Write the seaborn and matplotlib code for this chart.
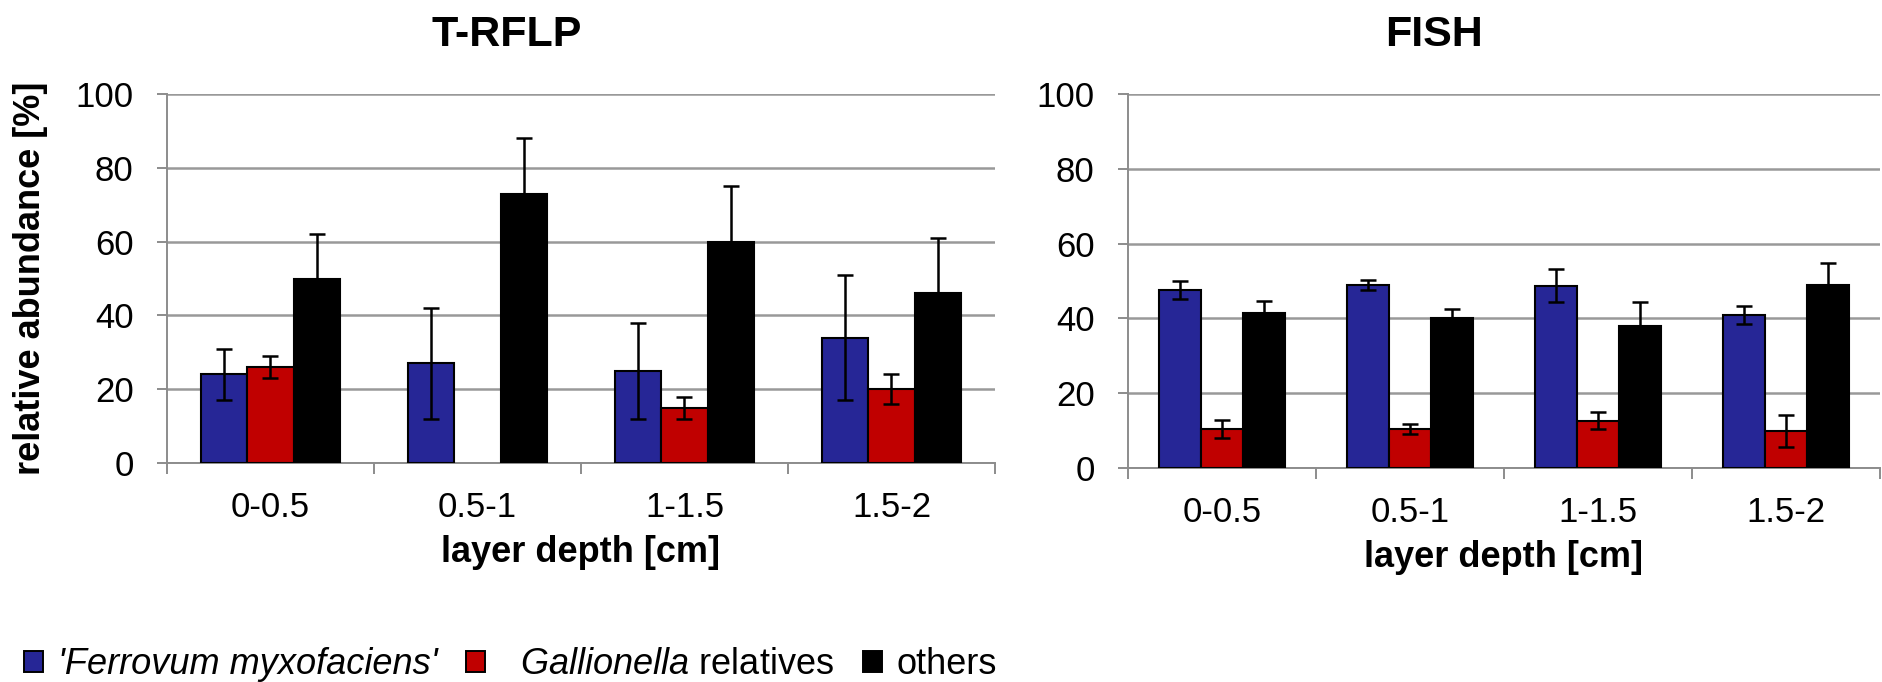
import numpy as np
import pandas as pd
import seaborn as sns
import matplotlib.pyplot as plt
from matplotlib.patches import Patch

depths = ["0-0.5", "0.5-1", "1-1.5", "1.5-2"]
groups = ["ferrovum", "gallionella", "others"]

# T-RFLP means and standard deviations (%)
trflp_ferrovum = [24, 27, 25, 34]
trflp_ferrovum_sd = [7, 15, 13, 17]
trflp_gallionella = [26, np.nan, 15, 20]
trflp_gallionella_sd = [3, np.nan, 3, 4]
trflp_others = [50, 73, 60, 46]
trflp_others_sd = [12, 15, 15, 15]

# FISH means and standard deviations (%)
fish_ferrovum = [47.5, 49, 48.7, 40.9]
fish_ferrovum_sd = [2.4, 1.4, 4.4, 2.4]
fish_gallionella = [10.5, 10.5, 12.6, 9.8]
fish_gallionella_sd = [2.4, 1.3, 2.3, 4.3]
fish_others = [41.5, 40, 38.1, 48.9]
fish_others_sd = [3.1, 2.6, 6.2, 6.0]

colors = ["#262696", "#C00000", "#000000"]

sns.set_theme(style="white")
plt.rcParams["font.family"] = ["Liberation Sans", "DejaVu Sans"]
plt.rcParams["mathtext.fontset"] = "custom"
plt.rcParams["mathtext.rm"] = "Liberation Sans"
plt.rcParams["mathtext.it"] = "Liberation Sans:italic"
for k in ["text.color", "axes.labelcolor", "xtick.labelcolor", "ytick.labelcolor"]:
    plt.rcParams[k] = "black"


def make_df(vals, sds):
    rows = []
    for g, v, s in zip(groups, vals, sds):
        for d, vv, ss in zip(depths, v, s):
            rows.append({"depth": d, "group": g, "value": vv, "sd": ss})
    return pd.DataFrame(rows)


def draw(ax, df, show_ylabel):
    sns.barplot(data=df, x="depth", y="value", hue="group", order=depths,
                hue_order=groups, palette=colors, width=0.667, saturation=1,
                edgecolor="black", linewidth=1.5, legend=False, ax=ax,
                errorbar=None, zorder=3)
    # error bars from the drawn bar centres
    for cont, g in zip(ax.containers, groups):
        sub = df[df["group"] == g].set_index("depth")
        for bar in cont:
            xc = bar.get_x() + bar.get_width() / 2
            r = sub.loc[depths[int(round(xc))]]
            if np.isnan(r["sd"]) or np.isnan(r["value"]):
                continue
            ax.errorbar(xc, r["value"], yerr=r["sd"], color="black",
                        elinewidth=1.8, capsize=6, capthick=1.8, zorder=4)
    ax.set_ylim(0, 100)
    ax.set_xlim(-0.5, 3.5)
    ax.set_yticks([0, 20, 40, 60, 80, 100])
    ax.yaxis.grid(True, color="#999999", linewidth=1.8, zorder=0)
    ax.set_axisbelow(True)
    for s in ["top", "right"]:
        ax.spines[s].set_visible(False)
    for s in ["left", "bottom"]:
        ax.spines[s].set_color("#8c8c8c")
        ax.spines[s].set_linewidth(1.4)
    ax.set_xticks([-0.5, 0.5, 1.5, 2.5, 3.5], minor=True)
    ax.tick_params(axis="x", which="major", length=0, pad=20, labelsize=25)
    ax.tick_params(axis="x", which="minor", length=8, width=1.4, color="#8c8c8c",
                   direction="out", bottom=True)
    ax.tick_params(axis="y", length=7, width=1.4, color="#8c8c8c", direction="out",
                   left=True, pad=17, labelsize=25)
    ax.set_xlabel("layer depth [cm]", fontsize=26, fontweight="bold", labelpad=8)
    if show_ylabel:
        ax.set_ylabel("relative abundance [%]", fontsize=26, fontweight="bold", labelpad=20)
    else:
        ax.set_ylabel("")


fig = plt.figure(figsize=(18.83, 6.82), dpi=100)
ax1 = fig.add_axes([167 / 1883, 219 / 682, 828 / 1883, 369 / 682])
ax2 = fig.add_axes([1128 / 1883, 214 / 682, 752 / 1883, 374 / 682])

draw(ax1, make_df([trflp_ferrovum, trflp_gallionella, trflp_others],
                  [trflp_ferrovum_sd, trflp_gallionella_sd, trflp_others_sd]), True)
draw(ax2, make_df([fish_ferrovum, fish_gallionella, fish_others],
                  [fish_ferrovum_sd, fish_gallionella_sd, fish_others_sd]), False)

fig.text(507 / 1883, 1 - 46 / 682, "T-RFLP", fontsize=31, fontweight="bold",
         ha="center", va="baseline")
fig.text(1434 / 1883, 1 - 46 / 682, "FISH", fontsize=31, fontweight="bold",
         ha="center", va="baseline")

handles = [Patch(facecolor=c, edgecolor="black", linewidth=1.4) for c in colors]
labels = ["'Ferrovum myxofaciens'", r"  $\mathit{Gallionella}$ relatives", "others"]
leg = fig.legend(handles, labels, loc="lower left", bbox_to_anchor=(24 / 1883, 0.0),
                 ncol=3, frameon=False, fontsize=26, handlelength=0.53,
                 handleheight=0.53, handletextpad=0.4, columnspacing=0.8,
                 borderpad=0, borderaxespad=0)
leg.get_texts()[0].set_fontstyle("italic")

fig.savefig("out.png", dpi=100)
